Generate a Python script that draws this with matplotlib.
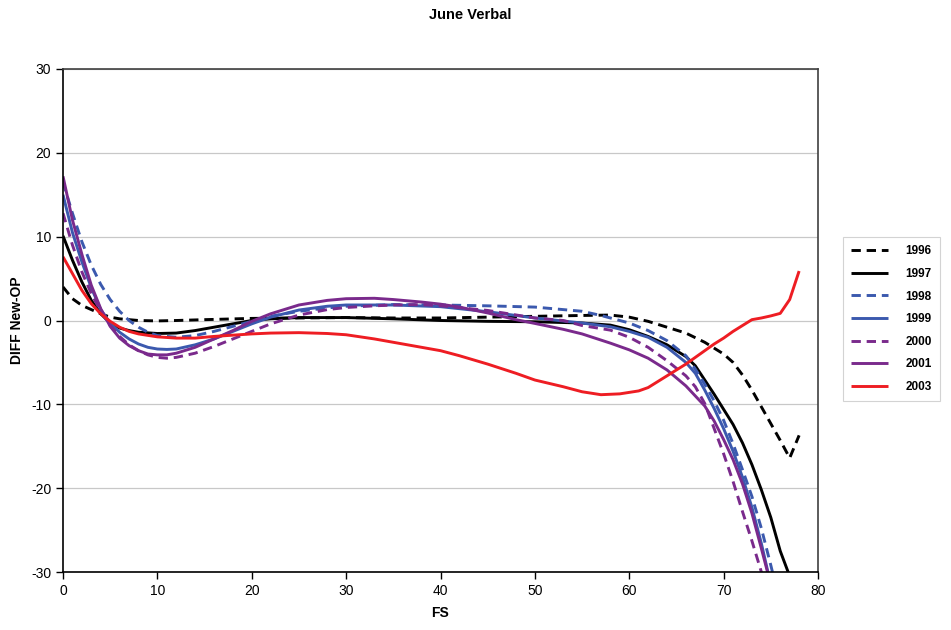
import matplotlib
matplotlib.use("Agg")
import matplotlib.pyplot as plt

plt.rcParams["font.family"] = ["Liberation Sans", "DejaVu Sans"]
plt.rcParams["axes.unicode_minus"] = False

# FS score vs. DIFF (New - OP), one series per year
fs_1996 = [0, 1, 2, 3, 4, 5, 6, 8, 10, 12, 15, 20, 25, 30, 35, 40, 45, 50, 55, 58,
           60, 62, 64, 66, 68, 70, 71, 72, 73, 74, 75, 76, 77, 78]
diff_1996 = [4.0, 2.6, 1.8, 1.3, 0.8, 0.4, 0.2, 0.0, -0.05, 0.0, 0.1, 0.25, 0.3, 0.35, 0.3, 0.3,
             0.4, 0.5, 0.6, 0.65, 0.4, -0.1, -0.8, -1.5, -2.6, -4.0, -5.0, -6.5, -8.3, -10.3,
             -12.3, -14.3, -16.4, -13.7]

fs_1997 = [0, 1, 2, 3, 4, 5, 6, 7, 8, 10, 12, 14, 16, 18, 20, 22, 25, 30, 35, 40, 45, 50,
           55, 58, 60, 62, 64, 66, 67, 68, 69, 70, 71, 72, 73, 74, 75, 76, 76.5, 77]
diff_1997 = [10.1, 7.2, 4.6, 2.4, 0.8, -0.3, -0.9, -1.2, -1.4, -1.55, -1.5, -1.2, -0.8, -0.4,
             0.0, 0.2, 0.35, 0.35, 0.2, 0.0, -0.1, -0.15, -0.3, -0.55, -1.1, -1.9, -2.9, -4.3,
             -5.4, -7.1, -8.8, -10.6, -12.4, -14.6, -17.2, -20.2, -23.5, -27.5, -29.0, -30.5]

fs_1998 = [0, 1, 2, 3, 4, 5, 6, 7, 8, 9, 10, 12, 14, 16, 18, 20, 22, 25, 28, 30, 35, 40, 45,
           50, 53, 55, 57, 58, 60, 62, 64, 66, 67, 68, 69, 70, 71, 72, 73, 74, 75, 75.5]
diff_1998 = [16.5, 12.8, 9.4, 6.6, 4.3, 2.5, 1.1, 0.0, -0.8, -1.4, -1.8, -2.0, -1.8, -1.3, -0.7,
             -0.1, 0.5, 1.1, 1.5, 1.7, 1.9, 1.85, 1.75, 1.6, 1.3, 1.1, 0.6, 0.3, -0.3, -1.2,
             -2.4, -4.2, -5.8, -7.6, -9.6, -11.9, -14.7, -17.8, -21.0, -24.8, -29.2, -31.5]

fs_1999 = [0, 1, 2, 3, 4, 5, 6, 7, 8, 9, 10, 11, 12, 14, 16, 18, 20, 22, 25, 28, 30, 35, 40,
           45, 50, 55, 58, 60, 62, 64, 66, 67, 68, 69, 70, 71, 72, 73, 74, 75]
diff_1999 = [15.0, 10.5, 7.0, 3.9, 1.3, -0.3, -1.4, -2.2, -2.8, -3.2, -3.4, -3.45, -3.4, -2.9,
             -2.2, -1.3, -0.4, 0.4, 1.25, 1.7, 1.85, 1.85, 1.65, 1.05, 0.3, -0.3, -0.75, -1.3,
             -2.0, -3.2, -5.0, -6.3, -8.3, -10.5, -12.9, -15.6, -18.7, -22.3, -26.6, -31.5]

fs_2000 = [0, 1, 2, 3, 4, 5, 6, 7, 8, 9, 10, 11, 12, 14, 16, 18, 20, 22, 25, 28, 30, 33, 35,
           38, 40, 45, 50, 53, 55, 58, 60, 62, 64, 66, 67, 68, 69, 70, 71, 72, 73, 74, 74.5]
diff_2000 = [12.8, 9.0, 5.8, 3.2, 1.1, -0.6, -1.9, -2.9, -3.6, -4.1, -4.4, -4.5, -4.4, -3.9,
             -3.1, -2.2, -1.3, -0.4, 0.65, 1.3, 1.55, 1.75, 1.85, 1.9, 1.75, 1.2, 0.3, 0.0,
             -0.6, -1.15, -2.0, -3.2, -4.8, -6.6, -7.9, -9.9, -12.9, -15.9, -19.2, -22.8,
             -26.3, -30.0, -32.0]

fs_2001 = [0, 1, 2, 3, 4, 5, 6, 7, 8, 9, 10, 11, 12, 14, 16, 18, 20, 22, 25, 28, 30, 33, 35,
           38, 40, 42, 45, 48, 50, 53, 55, 58, 60, 62, 64, 66, 67, 68, 69, 70, 71, 72, 73,
           74, 75]
diff_2001 = [17.2, 12.0, 7.9, 4.2, 1.4, -0.7, -2.1, -3.0, -3.6, -4.0, -4.1, -4.1, -3.9, -3.2,
             -2.2, -1.2, -0.1, 0.8, 1.85, 2.4, 2.6, 2.65, 2.5, 2.2, 1.95, 1.6, 0.9, 0.1, -0.35,
             -1.05, -1.6, -2.7, -3.5, -4.5, -5.9, -7.8, -9.0, -10.2, -12.0, -14.2, -16.6,
             -19.5, -23.0, -27.2, -31.5]

fs_2003 = [0, 1, 2, 3, 4, 5, 6, 7, 8, 10, 12, 14, 16, 18, 20, 22, 25, 28, 30, 33, 35, 38, 40,
           42, 45, 48, 50, 53, 55, 57, 59, 61, 62, 63, 64, 65, 66, 67, 68, 69, 70, 71, 72,
           73, 74, 75, 76, 77, 78]
diff_2003 = [7.6, 5.6, 3.6, 2.0, 0.8, -0.1, -0.8, -1.3, -1.6, -1.95, -2.1, -2.1, -1.9, -1.75,
             -1.6, -1.5, -1.45, -1.55, -1.7, -2.2, -2.6, -3.2, -3.6, -4.2, -5.2, -6.3, -7.1,
             -7.9, -8.5, -8.85, -8.75, -8.4, -8.0, -7.3, -6.6, -5.9, -5.2, -4.4, -3.6, -2.8,
             -2.1, -1.3, -0.6, 0.1, 0.3, 0.55, 0.85, 2.5, 5.9]

BLACK = "#000000"
BLUE = "#3b59ae"
PURPLE = "#7a2a8c"
RED = "#ee1d23"
DASH = (0, (3.2, 2.0))

series = [
    ("1996", fs_1996, diff_1996, BLACK, DASH),
    ("1997", fs_1997, diff_1997, BLACK, "-"),
    ("1998", fs_1998, diff_1998, BLUE, DASH),
    ("1999", fs_1999, diff_1999, BLUE, "-"),
    ("2000", fs_2000, diff_2000, PURPLE, DASH),
    ("2001", fs_2001, diff_2001, PURPLE, "-"),
    ("2003", fs_2003, diff_2003, RED, "-"),
]

fig = plt.figure(figsize=(9.51, 6.30), dpi=100)
ax = fig.add_axes([63 / 951, 58 / 630, 755 / 951, 503 / 630])

for label, xs, ys, color, ls in series:
    ax.plot(xs, ys, color=color, linestyle=ls, linewidth=2.1, label=label,
            solid_capstyle="butt", dash_capstyle="butt", solid_joinstyle="round")

ax.set_xlim(0, 80)
ax.set_ylim(-30, 30)
ax.set_xticks(range(0, 81, 10))
ax.set_yticks(range(-30, 31, 10))
ax.grid(axis="y", color="#c8c8c8", linewidth=0.9)
ax.set_axisbelow(True)
ax.tick_params(direction="out", length=5, width=1, labelsize=10, colors="black")

for side in ("left", "bottom"):
    ax.spines[side].set_color("black")
    ax.spines[side].set_linewidth(1.2)
for side in ("top", "right"):
    ax.spines[side].set_color("#404040")
    ax.spines[side].set_linewidth(1.2)

ax.set_xlabel("FS", fontsize=10, fontweight="bold", labelpad=6)
ax.set_ylabel("DIFF New-OP", fontsize=10, fontweight="bold")
ax.yaxis.set_label_coords(-39 / 755, 0.5)
fig.text(470 / 951, 1 - 15 / 630, "June Verbal", ha="center", va="center",
         fontsize=10.5, fontweight="bold")

leg = fig.legend(loc="upper left", bbox_to_anchor=(843 / 951, 1 - 237 / 630),
                 frameon=True, fancybox=False, edgecolor="#c8c8c8",
                 prop={"size": 8.5, "weight": "bold"}, handlelength=3.1,
                 labelspacing=0.9, handletextpad=1.5, borderpad=0.7,
                 borderaxespad=0)
leg.get_frame().set_linewidth(0.8)

fig.savefig("out.png", dpi=100)
